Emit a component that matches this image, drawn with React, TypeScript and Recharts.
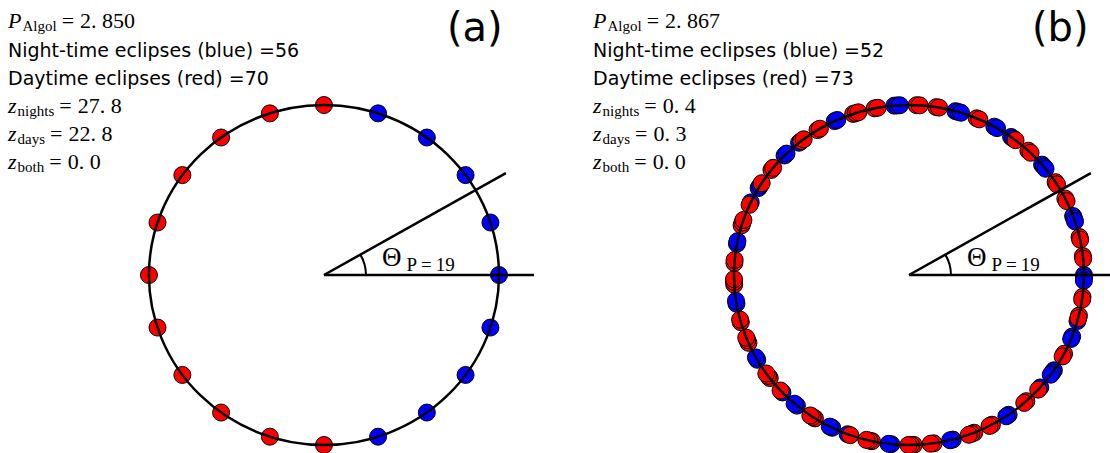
import React from 'react';
import { ScatterChart, Scatter, XAxis, YAxis, ReferenceArea, ReferenceLine } from 'recharts';

// ---- data ----
const panelLabels = ['(a)', '(b)'];
const periods = ['2. 850', '2. 867'];
const nightCounts = [56, 52];
const dayCounts = [70, 73];
const zNights = ['27. 8', '0. 4'];
const zDays = ['22. 8', '0. 3'];
const zBoth = ['0. 0', '0. 0'];

// eclipse positions on the 19-day circle, degrees (panel a)
const nightAnglesA = [-72, -54, -36, -18, 0, 18, 36, 54, 72];
const dayAnglesA = [90, 108, 126, 144, 162, 180, 198, 216, 234, 252, 270];

// eclipse positions (panel b)
const nightAnglesB = [
  0, 54.3, 325.9, 20.3, 74.6, 128.9, 40.5, 94.8, 149.2, 60.8, 115.1, 169.4, 223.7, 135.3, 189.7, 244.0,
  209.9, 264.2, 318.6, 230.2, 284.5, 338.8, 304.7,
  359.1, 53.4, 325.0, 19.3, 73.6, 39.6, 93.9, 148.2, 59.8, 114.2, 168.5, 134.4, 188.7, 243.1, 154.7,
  209.0, 263.3, 229.2, 283.6, 337.9, 249.5, 303.8,
  358.1, 324.1, 18.4, 72.7, 344.3, 38.7, 93.0,
];
const dayAnglesB = [
  108.6, 163.0, 217.3, 271.6, 183.2, 237.5, 291.9, 346.2, 203.5, 257.8, 312.1, 6.4, 278.1, 332.4, 26.7,
  81.0, 298.3, 352.6, 47.0, 101.3, 155.6, 12.9, 67.2, 121.5, 175.9, 33.1, 87.5, 141.8, 196.1, 250.4,
  107.7, 162.0, 216.4, 270.7, 128.0, 182.3, 236.6, 290.9, 345.3, 202.5, 256.9, 311.2, 5.5, 222.8, 277.1,
  331.4, 25.8, 80.1, 297.4, 351.7, 46.0, 100.3, 317.6, 12.0, 66.3, 120.6, 174.9, 32.2, 86.5, 140.9, 195.2,
  52.5, 106.8, 161.1, 215.4, 269.8, 127.0, 181.4, 235.7, 290.0, 147.3, 201.6, 255.9,
];

const thetaAngle = 30; // degrees
const lineLength = 1.2;
const arcRadius = 0.24;

// ---- layout ----
const W = 555;
const H = 453;
const X_DOMAIN: [number, number] = [-1.851, 1.32];
const Y_DOMAIN: [number, number] = [-1.047, 1.618];
const MARGIN = { top: 0, right: 0, bottom: 0, left: 0 };

const rad = (d: number) => (d * Math.PI) / 180;
const toXY = (angles: number[]) => angles.map((a) => ({ x: Math.cos(rad(a)), y: Math.sin(rad(a)) }));

const dotShape = (color: string) => (props: any) => (
  <circle cx={props.cx} cy={props.cy} r={8.5} fill={color} stroke="#000" strokeWidth={1} />
);

const ellipseShape = (props: any) => {
  const { x, y, width, height } = props;
  return (
    <ellipse
      cx={x + width / 2}
      cy={y + height / 2}
      rx={width / 2}
      ry={height / 2}
      fill="none"
      stroke="#000"
      strokeWidth={2.5}
    />
  );
};

const arcShape = (props: any) => {
  const { x, y, width, height } = props;
  const cx = x + width / 2;
  const cy = y + height / 2;
  const rx = width / 2;
  const ry = height / 2;
  const t = rad(thetaAngle);
  const d = `M ${cx + rx} ${cy} A ${rx} ${ry} 0 0 0 ${cx + rx * Math.cos(t)} ${cy - ry * Math.sin(t)}`;
  return <path d={d} fill="none" stroke="#000" strokeWidth={2} />;
};

const MATH = '"Liberation Serif", "DejaVu Serif", serif';
const SANS = '"DejaVu Sans", sans-serif';

function MathLine({ y, sym, sub, value, italic = true }: { y: number; sym: string; sub: string; value: string; italic?: boolean }) {
  return (
    <text x={8} y={y} fontFamily={MATH} fontSize={22}>
      <tspan fontStyle={italic ? 'italic' : 'normal'}>{sym}</tspan>
      <tspan fontSize={15} dy={3.5} dx={1}>{sub}</tspan>
      <tspan dy={-3.5} dx={5}>=</tspan>
      <tspan dx={6}>{value}</tspan>
    </text>
  );
}

function PanelText({ i, labelX }: { i: number; labelX: number }) {
  return (
    <svg width={W} height={H} style={{ position: 'absolute', left: 0, top: 0, pointerEvents: 'none' }}>
      <MathLine y={27.5} sym="P" sub="Algol" value={periods[i]} />
      <text x={8} y={57} fontFamily={SANS} fontSize={19}>
        {`Night-time eclipses (blue) =${nightCounts[i]}`}
      </text>
      <text x={8} y={85} fontFamily={SANS} fontSize={19}>
        {`Daytime eclipses (red) =${dayCounts[i]}`}
      </text>
      <MathLine y={112.5} sym="z" sub="nights" value={zNights[i]} />
      <MathLine y={140.5} sym="z" sub="days" value={zDays[i]} />
      <MathLine y={168.5} sym="z" sub="both" value={zBoth[i]} />
      <text x={labelX} y={41} fontFamily={SANS} fontSize={40}>
        {panelLabels[i]}
      </text>
      <text x={382} y={266} fontFamily={MATH} fontSize={27}>
        Θ
        <tspan fontSize={19} dy={5} dx={5}>P</tspan>
        <tspan fontSize={19} dx={4}>=</tspan>
        <tspan fontSize={19} dx={4}>19</tspan>
      </text>
    </svg>
  );
}

function Axes() {
  return (
    <>
      <XAxis type="number" dataKey="x" domain={X_DOMAIN} allowDataOverflow hide />
      <YAxis type="number" dataKey="y" domain={Y_DOMAIN} allowDataOverflow hide />
    </>
  );
}

function Panel({ i, left, night, day, labelX }: { i: number; left: number; night: number[]; day: number[]; labelX: number }) {
  const t = rad(thetaAngle);
  return (
    <div style={{ position: 'absolute', left, top: 0, width: W, height: H }}>
      <div style={{ position: 'absolute', left: 0, top: 0 }}>
        <ScatterChart width={W} height={H} margin={MARGIN}>
          <XAxis type="number" dataKey="x" domain={X_DOMAIN} allowDataOverflow hide />
          <YAxis type="number" dataKey="y" domain={Y_DOMAIN} allowDataOverflow hide />
          <Scatter data={toXY(night)} isAnimationActive={false} shape={dotShape('#0000ff')} />
          <Scatter data={toXY(day)} isAnimationActive={false} shape={dotShape('#ff0000')} />
        </ScatterChart>
      </div>
      <div style={{ position: 'absolute', left: 0, top: 0 }}>
        <ScatterChart width={W} height={H} margin={MARGIN}>
          <XAxis type="number" dataKey="x" domain={X_DOMAIN} allowDataOverflow hide />
          <YAxis type="number" dataKey="y" domain={Y_DOMAIN} allowDataOverflow hide />
          <ReferenceArea x1={-1} x2={1} y1={-1} y2={1} shape={ellipseShape} ifOverflow="visible" />
          <ReferenceArea x1={-arcRadius} x2={arcRadius} y1={-arcRadius} y2={arcRadius} shape={arcShape} ifOverflow="visible" />
          <ReferenceLine
            segment={[{ x: 0, y: 0 }, { x: lineLength, y: 0 }]}
            stroke="#000"
            strokeWidth={2.5}
            ifOverflow="visible"
          />
          <ReferenceLine
            segment={[{ x: 0, y: 0 }, { x: lineLength * Math.cos(t), y: lineLength * Math.sin(t) }]}
            stroke="#000"
            strokeWidth={2.5}
            ifOverflow="visible"
          />
        </ScatterChart>
      </div>
      <PanelText i={i} labelX={labelX} />
    </div>
  );
}

export default function App() {
  return (
    <div style={{ position: 'absolute', left: 0, top: 0, width: 1110, height: 453, overflow: 'hidden', background: '#fff' }}>
      <Panel i={0} left={0} night={nightAnglesA} day={dayAnglesA} labelX={447} />
      <Panel i={1} left={585} night={nightAnglesB} day={dayAnglesB} labelX={447} />
    </div>
  );
}
